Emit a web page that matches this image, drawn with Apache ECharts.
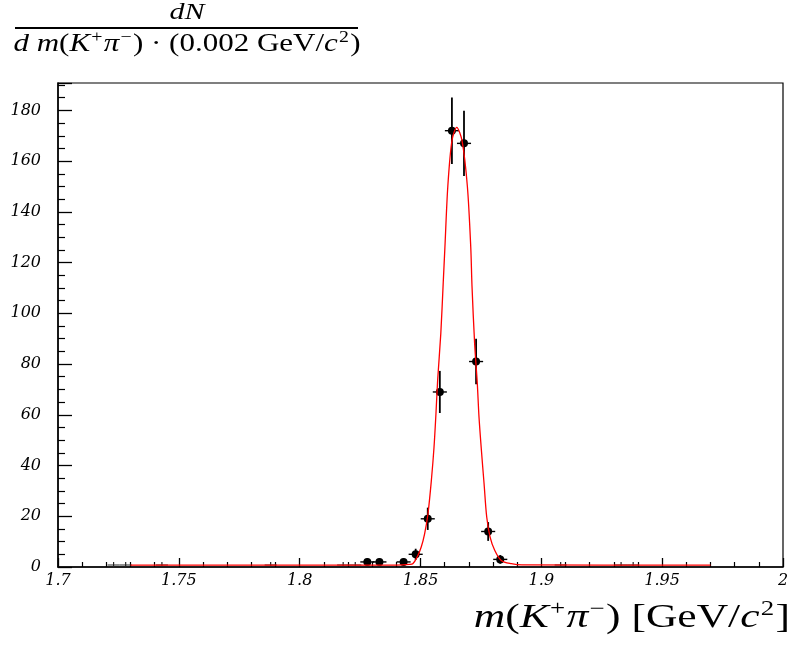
<!DOCTYPE html>
<html>
<head>
<meta charset="utf-8">
<script src="https://cdn.jsdelivr.net/npm/echarts@6/dist/echarts.min.js"></script>
<style>
html,body{margin:0;padding:0;background:#fff;}
#chart{width:794px;height:645px;}
</style>
</head>
<body>
<div id="chart"></div>
<script>
// ---- data ----
const massBins = [1.828, 1.833, 1.843, 1.848, 1.853, 1.858, 1.863, 1.868, 1.873, 1.878, 1.883];
const counts   = [2, 2, 2, 5, 19, 69, 172, 167, 81, 14, 3];
const errors   = [1.4, 1.4, 1.4, 2.2, 4.4, 8.3, 13.1, 12.9, 9.0, 3.7, 1.7];
const zeroBins = [1.723, 1.728, 1.743, 1.788, 1.818, 1.823, 1.908, 1.933, 1.938];
const fitMass  = [1.73, 1.84, 1.8455, 1.8468, 1.8486, 1.8503, 1.8517, 1.8531, 1.8545, 1.8556, 1.8564, 1.8571, 1.8584, 1.8594, 1.8601, 1.8613, 1.8630, 1.8650, 1.8672, 1.8694, 1.8708, 1.8713, 1.8724, 1.8735, 1.8742, 1.8752, 1.8763, 1.8774, 1.8788, 1.8807, 1.8834, 1.8876, 1.892, 1.97];
const fitValue = [0.7, 0.7, 1.0, 1.3, 3.9, 7.9, 13.1, 21.0, 34.2, 47.3, 60.5, 73.7, 92, 112, 126, 150, 168, 173.3, 168, 150, 126, 111, 88, 72.4, 59.2, 46.0, 32.9, 19.7, 11.8, 6.6, 2.6, 1.3, 0.8, 0.7];
const xTicks = { min: 1.7, max: 2.0, step: 0.05 };
const yTicks = { min: 0, max: 190.8, step: 20 };
const binHalfWidth = 0.0025;

const chart = echarts.init(document.getElementById('chart'), null, { renderer: 'canvas' });

const pointData = massBins.map((m, i) => [m, counts[i], errors[i]]);
const zeroData = zeroBins.map(m => [m, 0]);
const fitData = fitMass.map((m, i) => [m, fitValue[i]]);

const tickFont = { fontFamily: 'DejaVu Serif', fontStyle: 'italic', fontSize: 16, color: '#000' };
const mathFont = 'Liberation Serif';

chart.setOption({
  animation: false,
  backgroundColor: '#fff',
  grid: { left: 58, right: 11, top: 83, bottom: 78, show: true, borderColor: '#000', borderWidth: 1.2, backgroundColor: 'transparent' },
  xAxis: {
    type: 'value', min: xTicks.min, max: xTicks.max, interval: xTicks.step,
    axisLine: { show: true, onZero: false, lineStyle: { color: '#000', width: 1.5 } },
    axisTick: { show: true, inside: true, length: 9, lineStyle: { color: '#000', width: 1.3 } },
    minorTick: { show: true, splitNumber: 5, length: 5, lineStyle: { color: '#000', width: 1.2 } },
    splitLine: { show: false },
    axisLabel: Object.assign({ margin: 6, formatter: v => String(+v.toFixed(2)) }, tickFont)
  },
  yAxis: {
    type: 'value', min: yTicks.min, max: yTicks.max, interval: yTicks.step,
    axisLine: { show: true, onZero: false, lineStyle: { color: '#000', width: 1.5 } },
    axisTick: { show: true, inside: true, length: 14, lineStyle: { color: '#000', width: 1.3 } },
    minorTick: { show: true, splitNumber: 4, length: 7, lineStyle: { color: '#000', width: 1.2 } },
    splitLine: { show: false },
    axisLabel: Object.assign({ margin: 17, formatter: v => (Math.abs(v % 20) < 1e-6 ? String(v) : '') }, tickFont)
  },
  series: [
    {
      type: 'custom', name: 'empty', data: zeroData, z: 3,
      renderItem: (params, api) => {
        const x = api.value(0), y = api.value(1);
        const c = api.coord([x, y]);
        const l = api.coord([x - binHalfWidth, y]);
        const r = api.coord([x + binHalfWidth, y]);
        return { type: 'group', children: [
          { type: 'line', shape: { x1: l[0], y1: c[1] - 2, x2: r[0], y2: c[1] - 2 }, style: { stroke: '#222', lineWidth: 1 } },
          { type: 'line', shape: { x1: c[0], y1: c[1], x2: c[0], y2: c[1] - 5 }, style: { stroke: '#222', lineWidth: 1.2 } }
        ] };
      }
    },
    {
      type: 'custom', name: 'data', data: pointData, z: 4,
      renderItem: (params, api) => {
        const x = api.value(0), y = api.value(1), e = api.value(2);
        const c = api.coord([x, y]);
        const t = api.coord([x, y + e]);
        const b = api.coord([x, y - e]);
        const l = api.coord([x - binHalfWidth, y]);
        const r = api.coord([x + binHalfWidth, y]);
        return { type: 'group', children: [
          { type: 'line', shape: { x1: c[0], y1: t[1], x2: c[0], y2: b[1] }, style: { stroke: '#000', lineWidth: 1.8 } },
          { type: 'line', shape: { x1: l[0] - 1, y1: c[1], x2: r[0] + 1, y2: c[1] }, style: { stroke: '#000', lineWidth: 1.4 } },
          { type: 'circle', shape: { cx: c[0], cy: c[1], r: 4 }, style: { fill: '#000' } }
        ] };
      }
    },
    {
      type: 'line', name: 'fit', data: fitData, z: 5,
      showSymbol: false, symbol: 'none', smooth: 0.3,
      lineStyle: { color: '#ff0000', width: 1.3 }
    }
  ],
  graphic: [
    {
      type: 'text', x: 187, y: 13, scaleX: 1.25,
      style: {
        text: '{i|dN}', align: 'center', verticalAlign: 'middle',
        rich: { i: { fontFamily: mathFont, fontStyle: 'italic', fontSize: 24, fill: '#000' } }
      }
    },
    { type: 'line', shape: { x1: 15, y1: 28, x2: 358, y2: 28 }, style: { stroke: '#000', lineWidth: 1.8 } },
    {
      type: 'text', x: 187, y: 44, scaleX: 1.24,
      style: {
        text: '{i|d m}{r|(}{i|K}{s|+}{i|π}{s|−}{r|) · (0.002 GeV/}{i|c}{s|2}{r|)}',
        align: 'center', verticalAlign: 'middle',
        rich: {
          i: { fontFamily: mathFont, fontStyle: 'italic', fontSize: 25, lineHeight: 28, fill: '#000' },
          r: { fontFamily: mathFont, fontSize: 25, lineHeight: 28, fill: '#000' },
          s: { fontFamily: mathFont, fontSize: 16, lineHeight: 18, verticalAlign: 'top', fill: '#000', padding: [0, 1, 0, 1] }
        }
      }
    },
    {
      type: 'text', x: 790, y: 618, scaleX: 1.28,
      style: {
        text: '{i|m}{r|(}{i|K}{s|+}{i|π}{s|−}{r|) [GeV/}{i|c}{s|2}{r|]}',
        align: 'right', verticalAlign: 'middle',
        rich: {
          i: { fontFamily: mathFont, fontStyle: 'italic', fontSize: 34, lineHeight: 38, fill: '#000' },
          r: { fontFamily: mathFont, fontSize: 34, lineHeight: 38, fill: '#000' },
          s: { fontFamily: mathFont, fontSize: 21, lineHeight: 22, verticalAlign: 'top', fill: '#000', padding: [0, 1, 0, 1] }
        }
      }
    }
  ]
});
</script>
</body>
</html>
